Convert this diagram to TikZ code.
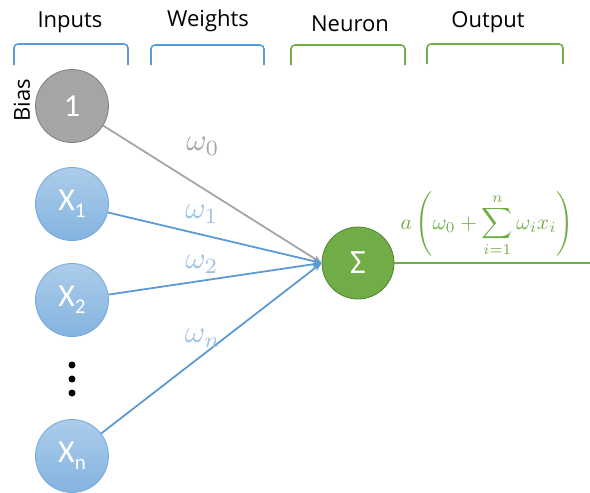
\documentclass[tikz,border=0pt]{standalone}
\usepackage{fontspec}
\setmainfont{Open Sans}
\newfontfamily\circfont{Carlito}
\usetikzlibrary{arrows.meta}
\definecolor{cblue}{HTML}{5B9BD5}
\definecolor{lblue}{HTML}{9DC3E6}
\definecolor{cgray}{HTML}{A5A5A5}
\definecolor{dgray}{HTML}{7F7F7F}
\definecolor{cgreen}{HTML}{70AD47}
\definecolor{dgreen}{HTML}{548235}
\tikzset{
  header/.style={font=\fontsize{22}{26}\selectfont, text=black},
  bracketline/.style={line width=1.6pt, rounded corners=4pt},
  innode/.style={circle, minimum size=73pt, inner sep=0pt, draw=cblue!85, line width=0.8pt,
     top color=lblue!85!white, bottom color=cblue!75!white, text=white,
     font=\circfont\fontsize{32}{32}\selectfont},
  biasnode/.style={circle, minimum size=73pt, inner sep=0pt, draw=dgray, line width=0.8pt,
     fill=cgray, text=white, font=\circfont\fontsize{32}{32}\selectfont},
  sumnode/.style={circle, minimum size=72pt, inner sep=0pt, draw=dgreen, line width=0.8pt,
     fill=cgreen, text=white, font=\circfont\fontsize{34}{34}\selectfont},
  wire/.style={line width=1.8pt, -{Stealth[length=9pt,width=7pt]}},
  wlabel/.style={scale=3.1, inner sep=0pt},
  dot/.style={circle, fill=black, minimum size=7pt, inner sep=0pt},
}
\newcommand{\sbs}[1]{\raisebox{-7pt}{\fontsize{21}{21}\selectfont #1}}
\begin{document}
\begin{tikzpicture}[x=1pt,y=-1pt]
\useasboundingbox (0,0) rectangle (590,493);
% headers
\node[header] (hin) at (70,22) {Inputs};
\node[header] (hw) at (208,21) {Weights};
\node[header] (hn) at (350,24) {Neuron};
\node[header] (ho) at (488,22) {Output};
% brackets
\draw[bracketline, cblue] (14,65) -- (14,44) -- (128,44) -- (128,65);
\draw[bracketline, cblue] (151,65) -- (151,45) -- (264,45) -- (264,65);
\draw[bracketline, cgreen] (291,65) -- (291,45) -- (405,45) -- (405,65);
\draw[bracketline, cgreen] (427,64) -- (427,44) -- (563,44) -- (563,64);
% nodes
\node[biasnode] (b) at (72,106) {1};
\node[header, rotate=90] (bias) at (22,100) {Bias};
\node[innode] (x1) at (72,204) {X\sbs{1}};
\node[innode] (x2) at (72,300) {X\sbs{2}};
\node[innode] (xn) at (72,456) {X\sbs{n}};
\node[dot] (d1) at (72,365) {};
\node[dot] (d2) at (72,379) {};
\node[dot] (d3) at (72,393) {};
\node[sumnode] (s) at (358,263) {Σ};
\coordinate (out) at (590,263);
% wires
\draw[wire, cgray] (b) -- (s.west);
\draw[wire, cblue] (x1) -- (s.west);
\draw[wire, cblue] (x2) -- (s.west);
\draw[wire, cblue] (xn) -- (s.west);
\draw[line width=1.8pt, cgreen] (s) -- (out);
% weight labels
\node[wlabel, text=cgray] (w0) at (203,146) {$\omega_0$};
\node[wlabel, text=lblue] (w1) at (202,214) {$\omega_1$};
\node[wlabel, text=lblue] (w2) at (202,264) {$\omega_2$};
\node[wlabel, text=lblue] (wn) at (203,338) {$\omega_n$};
% formula
\node[scale=2.15, text=cgreen, inner sep=0pt] (f) at (487,224)
  {$\displaystyle a\left(\omega_0+\sum_{i=1}^{n}\omega_i x_i\right)$};
\end{tikzpicture}
\end{document}
